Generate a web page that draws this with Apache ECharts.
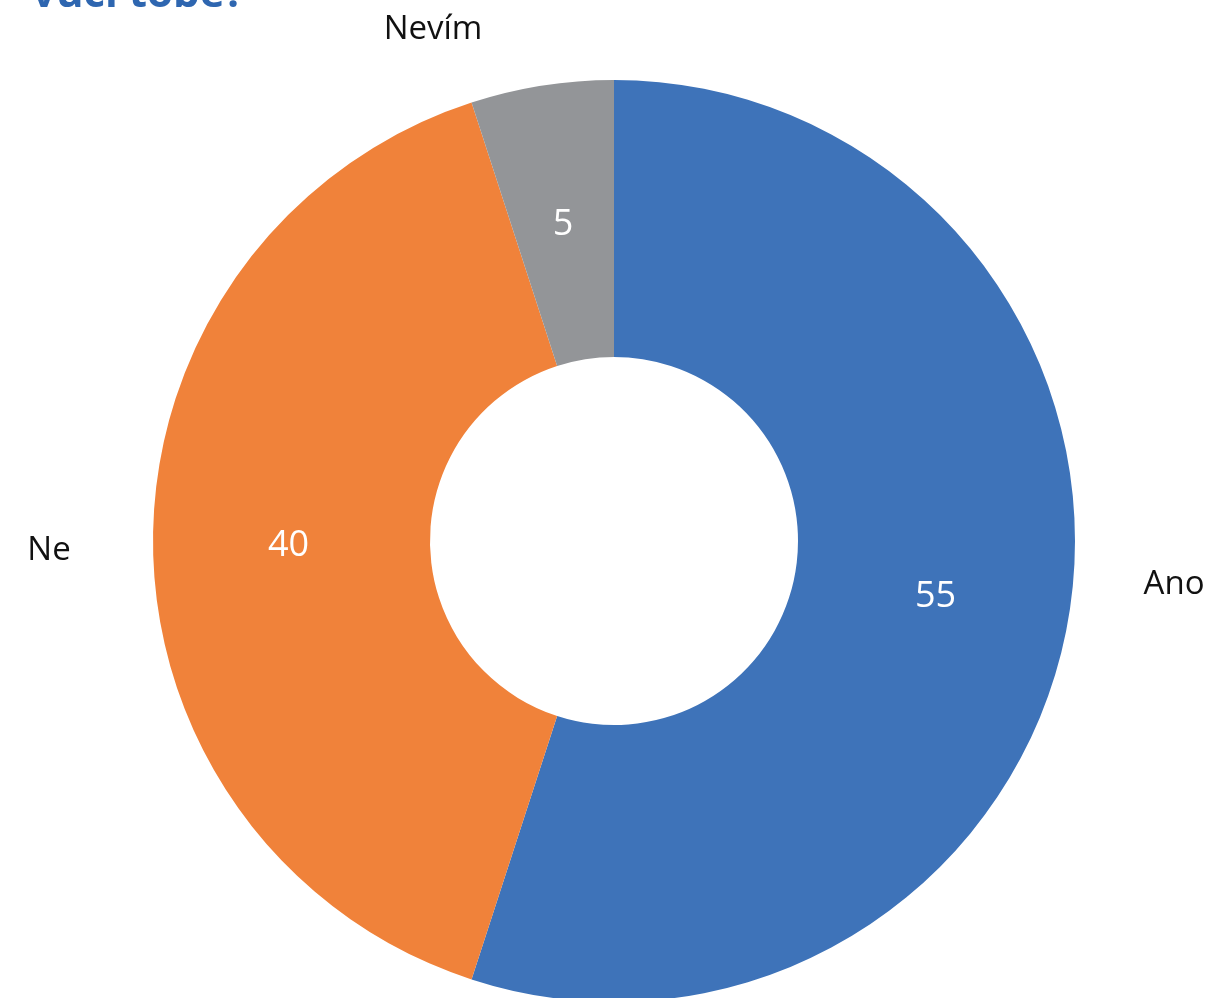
<!DOCTYPE html>
<html><head><meta charset="utf-8">
<script src="https://cdn.jsdelivr.net/npm/echarts@6/dist/echarts.min.js"></script>
<style>html,body{margin:0;padding:0;background:#fff}#c{width:1211px;height:998px}</style>
</head><body><div id="c"></div>
<script>
const categories = ['Ano', 'Ne', 'Nevím'];
const values = [55, 40, 5];
const colors = ['#3E73B9', '#F0823A', '#939598'];
const titleText = 'vůči tobě?';
// outer name label anchor points (as placed in the original)
const namePos = [[1174, 585], [49, 551], [433, 30]];

const chart = echarts.init(document.getElementById('c'));
const data = categories.map((n, i) => ({ name: n, value: values[i], itemStyle: { color: colors[i] } }));
chart.setOption({
  animation: false,
  graphic: [{
    type: 'text', left: 32, top: -26,
    style: { text: titleText, font: 'bold 42px "Open Sans"', fill: '#2E66B0' }
  }],
  series: [{
    type: 'pie', center: [614, 541], radius: [184, 461], startAngle: 90, clockwise: true,
    data: data, itemStyle: { borderWidth: 0 },
    label: { show: true, position: 'inside', formatter: '{c}', color: '#fff', fontSize: 36, fontFamily: 'Open Sans', offset: [0, 5] },
    labelLine: { show: false }
  }, {
    type: 'pie', center: [614, 541], radius: [184, 461], startAngle: 90, clockwise: true, silent: true,
    data: data.map(d => ({ name: d.name, value: d.value, itemStyle: { color: 'transparent' } })),
    label: { show: true, position: 'outside', formatter: '{b}', color: '#111', fontSize: 33, fontFamily: 'Open Sans' },
    labelLine: { show: false },
    labelLayout: function (p) {
      const pos = namePos[p.dataIndex];
      return { x: pos[0], y: pos[1], align: 'center', verticalAlign: 'middle' };
    }
  }]
});
</script></body></html>
